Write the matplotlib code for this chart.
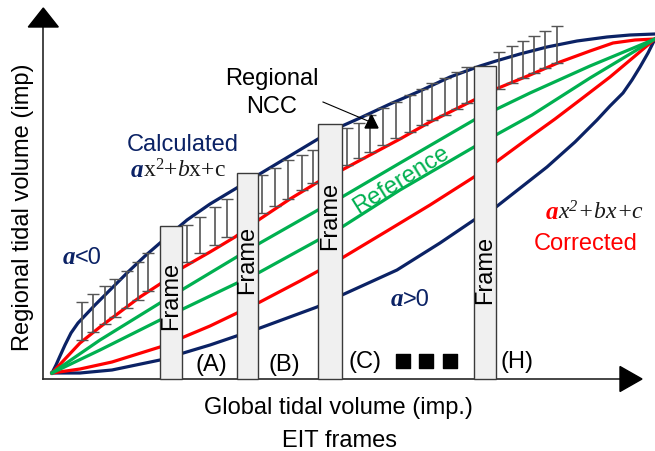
import matplotlib
matplotlib.use("Agg")
import matplotlib.pyplot as plt

plt.rcParams['font.family'] = ['Liberation Sans', 'DejaVu Sans']
plt.rcParams['mathtext.fontset'] = 'custom'
plt.rcParams['mathtext.rm'] = 'Liberation Serif'
plt.rcParams['mathtext.it'] = 'Liberation Serif:italic'
plt.rcParams['mathtext.bf'] = 'Liberation Serif:bold'

# schematic curves (global tidal volume -> regional tidal volume)
calc_neg_x = [0, 4, 8, 13, 19, 26, 43, 60, 76, 93, 108, 135, 158, 183, 206, 246, 266, 290, 308, 338, 368, 398, 428, 444, 468, 495, 525, 555, 578, 603]
calc_neg_y = [0, 8, 17, 28, 40, 50, 68, 85, 101, 117, 130, 153, 169, 184, 198, 222, 234, 247, 255, 269, 282, 296, 307, 312, 319, 326, 332, 336, 338, 339]

corr_neg_x = [0, 13, 28, 48, 68, 88, 108, 130, 158, 183, 208, 238, 266, 290, 318, 348, 378, 422, 444, 478, 508, 538, 561, 583, 603]
corr_neg_y = [0, 14, 30, 46, 61, 76, 89, 105, 121, 136, 154, 174, 191, 203, 218, 234, 251, 273, 284, 298, 311, 322, 330, 333, 334]

ref_up_x = [0, 48, 108, 158, 208, 266, 290, 348, 422, 478, 538, 603]
ref_up_y = [0, 33, 70, 100, 130, 163, 176, 210, 253, 280, 307, 334]

ref_low_x = [0, 48, 108, 158, 208, 248, 290, 348, 422, 480, 538, 603]
ref_low_y = [0, 23, 53, 77, 101, 123, 146, 183, 226, 258, 295, 334]

corr_pos_x = [0, 28, 60, 108, 158, 208, 248, 290, 335, 378, 422, 444, 478, 503, 528, 558, 583, 603]
corr_pos_y = [0, 4, 11, 26, 47, 71, 92, 115, 142, 168, 196, 211, 236, 254, 273, 296, 317, 334]

calc_pos_x = [0, 13, 28, 60, 108, 158, 208, 265, 290, 345, 388, 422, 444, 495, 523, 545, 558, 571, 580, 588, 596, 603]
calc_pos_y = [0, 0, 0, 3, 13, 28, 45, 66, 78, 103, 130, 153, 166, 206, 231, 253, 267, 280, 293, 306, 320, 334]

# regional NCC error bars
ncc_x = [30, 41, 53, 63, 75, 86, 96,
         135, 148, 163, 175,
         210, 223, 236, 250, 261,
         295, 307, 318, 331, 344, 358, 370, 380, 393, 405, 415,
         447, 460, 471, 482, 493, 505]
ncc_low = [33, 41, 49, 56, 65, 73, 82,
           111, 120, 128, 136,
           160, 167, 174, 183, 190,
           208, 215, 221, 228, 235, 241, 248, 253, 258, 264, 270,
           284, 290, 295, 300, 305, 310]
ncc_high = [71, 79, 87, 94, 102, 111, 120,
            148, 156, 166, 174,
            198, 205, 213, 218, 223,
            245, 250, 258, 265, 271, 278, 284, 290, 295, 301, 306,
            321, 327, 332, 337, 342, 347]

# EIT frames
frame_labels = ['(A)', '(B)', '(C)', '(H)']
frame_left = [108, 185, 266, 422]
frame_width = [22, 21, 24, 22]
frame_top = [147, 200, 249, 307]
dots_x = [351, 374, 398]

navy = '#0b2265'
red = '#ff0000'
green = '#00b050'
base = -6

fig = plt.figure(figsize=(6.55, 4.51), dpi=100)
ax = fig.add_axes([0, 0, 1, 1])
ax.set_xlim(-52, 603)
ax.set_ylim(-78, 373)
ax.axis('off')

lw = 2.3
ax.plot(calc_neg_x, calc_neg_y, color=navy, lw=lw, zorder=2)
ax.plot(calc_pos_x, calc_pos_y, color=navy, lw=lw, zorder=2)
ax.plot(corr_neg_x, corr_neg_y, color=red, lw=lw, zorder=2)
ax.plot(corr_pos_x, corr_pos_y, color=red, lw=lw, zorder=2)
ax.plot(ref_up_x, ref_up_y, color=green, lw=lw, zorder=2)
ax.plot(ref_low_x, ref_low_y, color=green, lw=lw, zorder=2)

err = [[0] * len(ncc_x), [h - l for h, l in zip(ncc_high, ncc_low)]]
eb = ax.errorbar(ncc_x, ncc_low, yerr=err, fmt='none', ecolor='#555555',
                 elinewidth=1.2, capsize=4, capthick=1.0, zorder=3)
for cap in eb[1]:
    cap.set_color('black')

heights = [t - base for t in frame_top]
ax.bar(frame_left, heights, width=frame_width, bottom=base, align='edge',
       color='#f0f0f0', edgecolor='#3a3a3a', lw=1.0, zorder=4)

# frame captions
frame_text_y = [77, 113, 157, 103]
for left, w, ty in zip(frame_left, frame_width, frame_text_y):
    ax.text(left + w / 2, ty, 'Frame', rotation=90, ha='center', va='center',
            fontsize=17, zorder=5)
label_pos = [(159, 8), (232, 8), (313, 11), (465, 11)]
for lab, (lx, ly) in zip(frame_labels, label_pos):
    ax.text(lx, ly, lab, ha='center', va='center', fontsize=17)
ax.scatter(dots_x, [12] * len(dots_x), marker='s', s=90, color='black', zorder=5)

# axes with arrow heads
ax.plot([-8.7, -8.7], [base, 346], color='#262626', lw=1.2, zorder=1)
ax.plot([-8.7, 568], [base, base], color='#262626', lw=1.2, zorder=1)
ax.fill([-23.7, 6.3, -8.7], [346, 346, 365], color='black', zorder=6)
ax.fill([568, 568, 590], [6.5, -18.5, -6], color='black', zorder=6)

# Regional NCC pointer
ax.plot([271, 316], [271, 252], color='black', lw=0.8, zorder=6)
ax.fill([313, 326, 319.5], [245, 245, 258], color='black', zorder=6)
ax.text(220, 288, 'Regional', ha='center', va='baseline', fontsize=17)
ax.text(220, 260, 'NCC', ha='center', va='baseline', fontsize=17)

ax.text(131, 222, 'Calculated', ha='center', va='baseline', fontsize=17, color=navy)
ax.text(91, 196, 'a', ha='right', va='baseline', fontsize=18, color=navy,
        family='Liberation Serif', weight='bold', style='italic')
ax.text(91, 196, r'x$^{\mathregular{2}}$+$\mathit{b}$x+c', ha='left', va='baseline',
        fontsize=17, family='Liberation Serif', color='#1a1a1a')

ax.text(23, 109, 'a', ha='right', va='baseline', fontsize=18, color=navy,
        family='Liberation Serif', weight='bold', style='italic')
ax.text(23, 109, '<0', ha='left', va='baseline', fontsize=17, color=navy)
ax.text(351, 67, 'a', ha='right', va='baseline', fontsize=18, color=navy,
        family='Liberation Serif', weight='bold', style='italic')
ax.text(351, 67, '>0', ha='left', va='baseline', fontsize=17, color=navy)

ax.text(506, 154, 'a', ha='right', va='baseline', fontsize=18, color=red,
        family='Liberation Serif', weight='bold', style='italic')
ax.text(506, 154, r'x$^{\mathregular{2}}$+bx+c', ha='left', va='baseline',
        fontsize=17, family='Liberation Serif', style='italic', color='#1a1a1a')
ax.text(534, 123, 'Corrected', ha='center', va='baseline', fontsize=17, color=red)

ax.text(349, 193, 'Reference', ha='center', va='center', rotation=32,
        rotation_mode='anchor', fontsize=17, color=green, zorder=3)

ax.text(286, -41, 'Global tidal volume (imp.)', ha='center', va='baseline', fontsize=17)
ax.text(288, -74, 'EIT frames', ha='center', va='baseline', fontsize=17)
ax.text(-29, 166, 'Regional tidal volume (imp)', ha='center', va='center',
        rotation=90, fontsize=17)

fig.savefig('out.png', dpi=100)
